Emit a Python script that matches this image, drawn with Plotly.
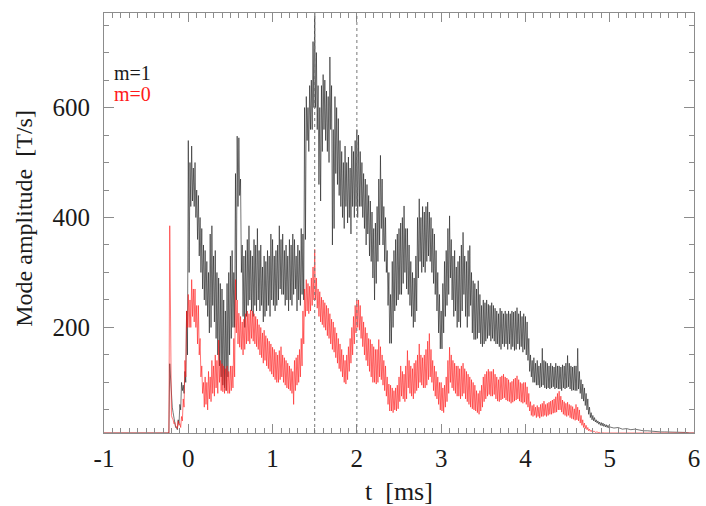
import numpy as np
import plotly.graph_objects as go

# sample times [ms]: one band sample every 0.02 ms, then a sparse tail
t_pre = [-1.0, -0.23, -0.22]
t_grid = np.round(np.arange(-0.20, 4.99, 0.02), 2)
t_tail = list(np.round(np.arange(5.0, 6.001, 0.05), 2))

# m=1 amplitude [T/s]: upper / lower edge of the noisy band (rows of 0.2 ms)
m1_pre = [8, 8, 134]
m1_hi = [
    70, 45, 25, 18, 32, 60, 100, 95, 120, 230,
    540, 500, 530, 490, 500, 450, 440, 400, 380, 350,
    340, 320, 300, 370, 385, 330, 340, 300, 290, 280,
    270, 250, 230, 280, 300, 330, 340, 300, 480, 548,
    545, 470, 350, 330, 340, 360, 385, 340, 330, 360,
    350, 380, 340, 350, 310, 330, 320, 340, 330, 370,
    360, 330, 340, 350, 385, 360, 370, 340, 350, 330,
    360, 350, 370, 360, 330, 350, 340, 380, 370, 600,
    620, 600, 640, 650, 720, 772, 700, 640, 600, 640,
    660, 650, 630, 620, 692, 640, 560, 620, 600, 580,
    540, 520, 500, 530, 500, 510, 490, 530, 520, 540,
    560, 550, 520, 500, 480, 470, 460, 440, 430, 410,
    380, 390, 420, 470, 513, 470, 420, 400, 340, 300,
    260, 320, 340, 360, 370, 380, 390, 400, 421, 380,
    380, 350, 320, 300, 290, 330, 400, 434, 400, 420,
    410, 420, 428, 410, 400, 380, 370, 340, 300, 260,
    230, 280, 320, 340, 380, 403, 360, 330, 340, 310,
    320, 330, 350, 373, 330, 320, 340, 349, 300, 285,
    280, 270, 285, 260, 240, 250, 245, 250, 242, 240,
    245, 240, 235, 230, 225, 235, 230, 225, 230, 225,
    230, 225, 230, 228, 230, 236, 225, 230, 220, 225,
    220, 210, 180, 150, 140, 145, 135, 140, 130, 135,
    162, 140, 138, 135, 130, 135, 130, 128, 135, 130,
    130, 128, 132, 130, 135, 149, 135, 130, 128, 130,
    130, 162, 120, 105, 97, 90, 80, 70, 55, 45,
    40, 36, 32, 30, 28, 27, 26, 24, 23, 22,
]
m1_lo = [
    55, 35, 18, 14, 25, 50, 85, 80, 100, 150,
    300, 420, 430, 420, 400, 360, 330, 300, 270, 250,
    240, 220, 190, 200, 240, 210, 180, 150, 130, 110,
    95, 90, 85, 110, 150, 180, 200, 200, 250, 420,
    440, 300, 220, 200, 220, 240, 250, 230, 220, 240,
    230, 250, 230, 240, 210, 220, 230, 240, 220, 250,
    240, 230, 240, 250, 270, 260, 260, 240, 250, 230,
    250, 240, 260, 270, 230, 250, 240, 260, 250, 360,
    540, 520, 560, 560, 600, 600, 560, 460, 430, 520,
    560, 540, 520, 500, 560, 350, 380, 480, 460, 440,
    420, 400, 380, 420, 390, 400, 370, 420, 400, 420,
    400, 420, 420, 400, 380, 350, 370, 330, 320, 290,
    250, 280, 320, 350, 380, 350, 320, 300, 240, 171,
    171, 200, 230, 240, 250, 260, 260, 280, 300, 270,
    260, 240, 220, 200, 210, 230, 290, 320, 300, 310,
    300, 320, 330, 320, 300, 280, 260, 230, 190, 161,
    161, 190, 220, 240, 260, 290, 250, 220, 230, 200,
    210, 200, 230, 260, 220, 200, 220, 240, 190, 178,
    178, 180, 190, 170, 165, 170, 175, 180, 185, 175,
    180, 175, 170, 170, 165, 160, 170, 165, 170, 160,
    170, 160, 165, 158, 160, 170, 160, 165, 155, 160,
    150, 140, 120, 110, 100, 100, 95, 95, 90, 92,
    95, 90, 88, 90, 88, 90, 92, 88, 90, 88,
    88, 85, 90, 88, 90, 92, 88, 85, 86, 85,
    85, 88, 80, 70, 66, 58, 50, 42, 36, 32,
    30, 28, 26, 24, 22, 21, 20, 19, 18, 17,
]
m1_tail = [19, 17, 18, 15, 16, 14, 15, 13, 12, 12, 11,
           11, 10, 10, 10, 9, 9, 9, 9, 8, 8]

# m=0 amplitude [T/s]
m0_pre = [8, 8, 385]
m0_hi = [
    40, 32, 27, 20, 30, 25, 38, 70, 140, 230,
    260, 250, 287, 270, 270, 240, 240, 180, 130, 100,
    110, 100, 120, 110, 140, 130, 150, 140, 177, 140,
    134, 130, 125, 130, 120, 130, 130, 180, 287, 250,
    226, 220, 210, 215, 225, 230, 225, 232, 230, 225,
    220, 215, 205, 200, 190, 195, 185, 180, 175, 170,
    164, 160, 155, 150, 158, 165, 150, 145, 140, 135,
    130, 125, 120, 140, 145, 150, 160, 180, 230, 270,
    287, 280, 275, 290, 310, 342, 290, 270, 265, 255,
    250, 245, 240, 235, 225, 215, 210, 200, 190, 180,
    170, 160, 150, 140, 150, 165, 180, 200, 220, 240,
    250, 250, 240, 220, 210, 200, 190, 180, 178, 170,
    165, 160, 160, 178, 165, 150, 140, 130, 110, 97,
    95, 90, 85, 90, 95, 110, 130, 120, 115, 130,
    158, 140, 130, 125, 135, 140, 150, 170, 150, 145,
    150, 160, 175, 189, 160, 140, 130, 120, 110, 100,
    100, 90, 95, 110, 140, 164, 150, 140, 135, 130,
    130, 125, 130, 135, 125, 120, 115, 110, 105, 100,
    95, 85, 80, 85, 95, 110, 115, 120, 124, 120,
    120, 124, 115, 110, 105, 110, 112, 115, 110, 108,
    105, 100, 102, 106, 108, 112, 105, 100, 98, 100,
    100, 92, 80, 65, 58, 60, 55, 58, 55, 60,
    62, 66, 60, 62, 64, 66, 68, 70, 74, 80,
    84, 75, 68, 65, 62, 64, 60, 58, 56, 52,
    60, 55, 50, 40, 32, 26, 22, 18, 15, 13,
    12, 11, 10, 10, 9, 9, 9, 8, 8, 8,
]
m0_lo = [
    35, 25, 20, 16, 22, 18, 30, 55, 110, 200,
    200, 200, 220, 210, 200, 170, 150, 110, 80, 55,
    60, 50, 70, 65, 80, 75, 90, 80, 100, 85,
    83, 80, 85, 80, 80, 85, 90, 110, 190, 170,
    164, 160, 150, 160, 170, 175, 170, 180, 175, 170,
    165, 160, 150, 145, 135, 140, 130, 125, 120, 115,
    110, 105, 100, 100, 105, 110, 100, 95, 90, 88,
    85, 80, 60, 85, 95, 100, 110, 130, 170, 220,
    230, 225, 230, 240, 250, 250, 235, 220, 210, 205,
    200, 195, 185, 180, 170, 160, 155, 145, 135, 125,
    120, 110, 100, 97, 105, 120, 135, 150, 170, 190,
    200, 195, 180, 165, 150, 140, 130, 120, 110, 100,
    100, 97, 100, 110, 105, 95, 85, 75, 60, 48,
    48, 45, 50, 48, 52, 65, 75, 70, 65, 70,
    90, 80, 75, 70, 80, 85, 90, 100, 95, 90,
    90, 95, 105, 110, 100, 85, 75, 70, 60, 50,
    48, 45, 55, 65, 80, 100, 90, 85, 80, 75,
    75, 70, 75, 80, 70, 65, 60, 55, 52, 50,
    48, 45, 42, 48, 55, 65, 70, 75, 78, 75,
    75, 78, 70, 66, 65, 68, 70, 72, 68, 66,
    65, 62, 64, 66, 68, 70, 66, 64, 62, 64,
    60, 55, 48, 40, 38, 40, 36, 38, 35, 38,
    38, 40, 38, 40, 42, 42, 44, 45, 46, 50,
    50, 46, 42, 40, 38, 40, 36, 34, 33, 31,
    32, 30, 26, 22, 18, 16, 14, 12, 11, 10,
    10, 9, 9, 8, 8, 8, 8, 8, 8, 8,
]
m0_tail = [8] * 21

x_ticks = [-1, 0, 1, 2, 3, 4, 5, 6]
x_labels = ["-1", "0", "1", "2", "3", "4", "5", "6"]
y_ticks = [200, 400, 600]
marker_times = [1.5, 2.0]


def band(pre, hi, lo, tail):
    # draw each sample as a stroke from upper to lower edge of the band
    xs = list(t_pre)
    ys = list(pre)
    for ti, h, l in zip(t_grid, hi, lo):
        xs += [ti, ti + 0.01]
        ys += [h, l]
    return xs + t_tail, ys + tail


serif = "Liberation Serif, Times New Roman, serif"
frame = "#8c8c8c"

fig = go.Figure()
x1, y1 = band(m1_pre, m1_hi, m1_lo, m1_tail)
x0, y0 = band(m0_pre, m0_hi, m0_lo, m0_tail)
fig.add_trace(go.Scatter(x=x1, y=y1, mode="lines",
                         line=dict(color="#1a1a1a", width=0.6), name="m=1"))
fig.add_trace(go.Scatter(x=x0, y=y0, mode="lines",
                         line=dict(color="#ff1a1a", width=0.6), name="m=0"))

for xm in marker_times:
    fig.add_shape(type="line", x0=xm, x1=xm, y0=0, y1=1, xref="x", yref="paper",
                  line=dict(color="#777777", width=1, dash="dot"))

fig.add_annotation(text="m=1", x=0.014, y=0.857, xref="paper", yref="paper",
                   xanchor="left", yanchor="middle", showarrow=False,
                   font=dict(family=serif, size=20, color="#1a1a1a"))
fig.add_annotation(text="m=0", x=0.014, y=0.807, xref="paper", yref="paper",
                   xanchor="left", yanchor="middle", showarrow=False,
                   font=dict(family=serif, size=20, color="#ff1a1a"))

fig.add_annotation(text="t\u00a0\u00a0[ms]", x=0.5, y=-0.14, xref="paper", yref="paper",
                   xanchor="center", yanchor="middle", showarrow=False,
                   font=dict(family=serif, size=26, color="#1a1a1a"))
fig.add_annotation(text="Mode amplitude\u00a0\u00a0[T/s]", x=-0.136, y=0.512,
                   xref="paper", yref="paper", textangle=-90,
                   xanchor="center", yanchor="middle", showarrow=False,
                   font=dict(family=serif, size=24, color="#1a1a1a"))

axis_common = dict(showgrid=False, zeroline=False, showline=True, linecolor=frame,
                   linewidth=1, mirror="ticks", ticks="inside", tickcolor=frame,
                   tickwidth=1, tickfont=dict(family=serif, size=25, color="#1a1a1a"))

fig.update_xaxes(range=[-1, 6], tickvals=x_ticks, ticktext=x_labels, ticklen=9,
                 minor=dict(dtick=0.1, ticklen=5, ticks="inside", tickcolor=frame),
                 ticklabelstandoff=3, ticklabeloverflow="allow", **axis_common)
fig.update_yaxes(range=[8, 772], tickvals=y_ticks, ticklen=10,
                 minor=dict(dtick=50, tick0=0, ticklen=5, ticks="inside", tickcolor=frame),
                 ticklabelstandoff=8, **axis_common)

fig.update_layout(width=706, height=506, showlegend=False,
                  margin=dict(l=104, r=6, t=13, b=73),
                  paper_bgcolor="white", plot_bgcolor="white")

fig.write_html("out.html", config={"displayModeBar": False},
               post_script="document.body.style.margin='0';")
